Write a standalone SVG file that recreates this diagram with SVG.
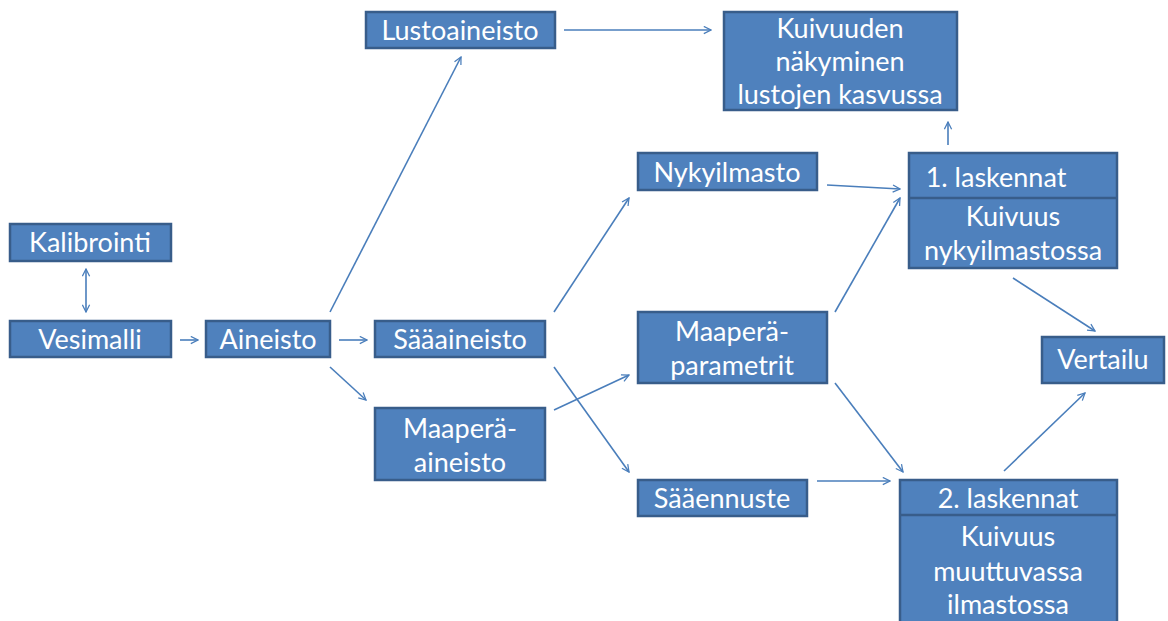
<svg xmlns="http://www.w3.org/2000/svg" width="1168" height="621" viewBox="0 0 1168 621">
<style>
.b{fill:#4F81BD;stroke:#385D8A;stroke-width:2.5}
.t{fill:#fff;font-family:Lato,"Liberation Sans",sans-serif;font-size:27px;text-anchor:middle}
.c{stroke:#4A7EBB;stroke-width:1.6;fill:none;marker-end:url(#a)}
</style>
<defs>
<marker id="a" viewBox="0 0 10 10" refX="9" refY="5" markerWidth="9" markerHeight="9" markerUnits="userSpaceOnUse" orient="auto-start-reverse">
<path d="M1,1 L9,5 L1,9" fill="none" stroke="#4A7EBB" stroke-width="1.4"/>
</marker>
</defs>
<rect width="1168" height="621" fill="#fff"/>
<g id="connectors">
<line class="c" x1="86" y1="269" x2="86" y2="312" marker-start="url(#a)"/>
<line class="c" x1="180" y1="340" x2="198" y2="340"/>
<line class="c" x1="339" y1="340" x2="367" y2="340"/>
<line class="c" x1="330" y1="367" x2="366" y2="400"/>
<line class="c" x1="330" y1="312" x2="461" y2="57"/>
<line class="c" x1="564" y1="30" x2="711" y2="30"/>
<line class="c" x1="554" y1="312" x2="629" y2="198"/>
<line class="c" x1="554" y1="367" x2="629" y2="472"/>
<line class="c" x1="554" y1="410" x2="629" y2="375"/>
<line class="c" x1="827" y1="185" x2="900" y2="189"/>
<line class="c" x1="835" y1="312" x2="900" y2="198"/>
<line class="c" x1="835" y1="383" x2="903" y2="472"/>
<line class="c" x1="817" y1="481" x2="890" y2="481"/>
<line class="c" x1="948" y1="145" x2="948" y2="122"/>
<line class="c" x1="1013" y1="278" x2="1095" y2="331"/>
<line class="c" x1="1004" y1="471" x2="1085" y2="393"/>
</g>
<g id="kalibrointi"><rect class="b" x="10" y="224" width="161" height="37"/><text class="t" x="90" y="252">Kalibrointi</text></g>
<g id="vesimalli"><rect class="b" x="10" y="321" width="161" height="36"/><text class="t" x="90" y="349">Vesimalli</text></g>
<g id="aineisto"><rect class="b" x="206" y="321" width="124" height="36"/><text class="t" x="268" y="349">Aineisto</text></g>
<g id="lustoaineisto"><rect class="b" x="366" y="12" width="189" height="36"/><text class="t" x="460" y="40">Lustoaineisto</text></g>
<g id="kuivuuden"><rect class="b" x="724" y="12" width="233" height="98"/><text class="t" x="840" y="38">Kuivuuden</text><text class="t" x="840" y="71">näkyminen</text><text class="t" x="840" y="104">lustojen kasvussa</text></g>
<g id="saaaineisto"><rect class="b" x="375" y="321" width="170" height="36"/><text class="t" x="460" y="349">Sääaineisto</text></g>
<g id="maaperaaineisto"><rect class="b" x="375" y="408" width="170" height="72"/><text class="t" x="460" y="438">Maaperä-</text><text class="t" x="460" y="472">aineisto</text></g>
<g id="nykyilmasto"><rect class="b" x="638" y="153" width="179" height="37"/><text class="t" x="727" y="182">Nykyilmasto</text></g>
<g id="maaperaparametrit"><rect class="b" x="638" y="312" width="189" height="71"/><text class="t" x="732" y="341">Maaperä-</text><text class="t" x="732" y="375">parametrit</text></g>
<g id="saaennuste"><rect class="b" x="638" y="480" width="169" height="36"/><text class="t" x="722" y="508">Sääennuste</text></g>
<g id="laskennat1"><rect class="b" x="909" y="153" width="208" height="115"/><line x1="909" y1="198" x2="1117" y2="198" stroke="#385D8A" stroke-width="2.5"/><text class="t" x="996" y="187">1. laskennat</text><text class="t" x="1013" y="226">Kuivuus</text><text class="t" x="1013" y="260">nykyilmastossa</text></g>
<g id="vertailu"><rect class="b" x="1042" y="337" width="122" height="46"/><text class="t" x="1103" y="369">Vertailu</text></g>
<g id="laskennat2"><rect class="b" x="900" y="480" width="217" height="150"/><line x1="900" y1="515" x2="1117" y2="515" stroke="#385D8A" stroke-width="2.5"/><text class="t" x="1008" y="508">2. laskennat</text><text class="t" x="1008" y="546">Kuivuus</text><text class="t" x="1008" y="581">muuttuvassa</text><text class="t" x="1008" y="614">ilmastossa</text></g>
</svg>
